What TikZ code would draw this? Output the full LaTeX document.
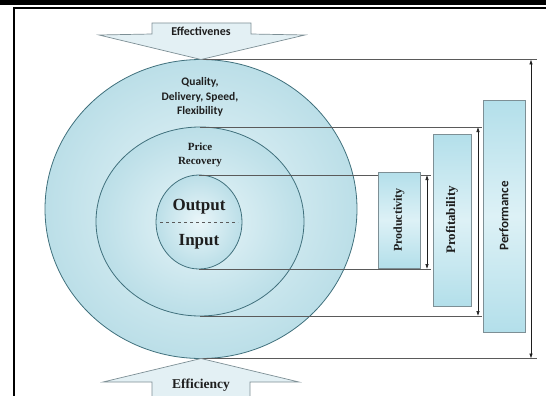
\documentclass[tikz,border=0pt]{standalone}
\usepackage{fontspec}
\setmainfont{Liberation Serif}
\newfontfamily\calfont{Carlito}
\usetikzlibrary{shapes.geometric,arrows.meta}
\definecolor{ink}{HTML}{1E1E1E}
\definecolor{rim}{HTML}{40707C}
\definecolor{wire}{HTML}{5A5A5A}
\definecolor{ringOut}{HTML}{8EC8D7}
\definecolor{ringIn}{HTML}{EAF6F9}
\definecolor{boxBlue}{HTML}{B3DFEA}
\definecolor{boxPale}{HTML}{DDF1F6}
\definecolor{arrowFill}{HTML}{E3F0F4}
\definecolor{arrowRim}{HTML}{7D8F95}
\pgfdeclareradialshading{ringShade}{\pgfpointorigin}{color(0bp)=(ringIn); color(22bp)=(ringIn!55!ringOut); color(50bp)=(ringOut); color(72bp)=(ringOut)}
\tikzset{
  ringCircle/.style={ellipse, draw=rim, line width=0.8pt, inner sep=0pt, outer sep=0pt, shading=ringShade},
  tangentLine/.style={draw=wire, line width=0.7pt},
  bracketArrow/.style={draw=ink, line width=0.6pt, {Latex[length=5pt,width=3.5pt]}-{Latex[length=5pt,width=3.5pt]}},
  metricBox/.style={draw=arrowRim, line width=0.7pt, top color=boxBlue, bottom color=boxBlue, middle color=boxPale, inner sep=0pt, outer sep=0pt, rotate=90, text=ink},
  flowArrow/.style={draw=arrowRim, line width=0.7pt, fill=arrowFill},
  ringText/.style={text=ink, align=center},
  ioText/.style={text=ink, font=\bfseries\fontsize{17}{19}\selectfont}
}

\begin{document}
\begin{tikzpicture}[x=1pt,y=-1pt]
  \useasboundingbox (0,0) rectangle (546,396);

  % frame
  \fill[black] (0,0) rectangle (546,5);
  \draw[black, line width=1.2pt] (13,8) -- (546,8);
  \draw[black, line width=1.6pt] (14,8) -- (14,396);

  % rings
  \node[ringCircle, minimum width=312pt, minimum height=299pt] (outer) at (201,209) {};
  \node[ringCircle, minimum width=208pt, minimum height=189pt] (middle) at (200,221.5) {};
  \node[ringCircle, minimum width=86pt, minimum height=94pt] (inner) at (199,222) {};

  \coordinate (prodX) at (427,0);
  \coordinate (prodEnd) at (431,0);
  \coordinate (profX) at (478,0);
  \coordinate (profEnd) at (482,0);
  \coordinate (perfX) at (531,0);
  \coordinate (perfEnd) at (537,0);

  \draw[tangentLine] (inner.north) -- (inner.north -| prodEnd);
  \draw[tangentLine] (inner.south) -- (inner.south -| prodEnd);
  \draw[tangentLine] (middle.north) -- (middle.north -| profEnd);
  \draw[tangentLine] (middle.south) -- (middle.south -| profEnd);
  \draw[tangentLine] (outer.north) -- (outer.north -| perfEnd);
  \draw[tangentLine] (outer.south) -- (outer.south -| perfEnd);

  \draw[wire, dashed, line width=0.5pt, shorten <=4pt, shorten >=4pt] (inner.west) -- (inner.east);

  \draw[bracketArrow] (inner.north -| prodX) -- (inner.south -| prodX);
  \draw[bracketArrow] (middle.north -| profX) -- (middle.south -| profX);
  \draw[bracketArrow] (outer.north -| perfX) -- (outer.south -| perfX);

  % boxes
  \node[metricBox, minimum width=96pt, minimum height=42pt, font=\bfseries\fontsize{12}{13}\selectfont] (productivity) at (399,220) {Productivity};
  \node[metricBox, minimum width=172pt, minimum height=38pt, font=\bfseries\fontsize{13}{14}\selectfont] (profitability) at (452,220) {Profitability};
  \node[metricBox, minimum width=232pt, minimum height=42pt, font=\calfont\bfseries\fontsize{13}{14}\selectfont] (performance) at (504,216) {Performance};

  % arrows
  \draw[flowArrow] (152,23) -- (251,23) -- (251,34) -- (305,35) -- (outer.north) -- (99,35) -- (152,34) -- cycle;
  \draw[flowArrow] (outer.south) -- (299,382) -- (250,382) -- (250,400) -- (152,400) -- (152,382) -- (103,382) -- cycle;

  % labels
  \node[ringText, font=\calfont\bfseries\fontsize{12}{13}\selectfont] (effLabel) at (201,31) {Effectivenes};
  \node[ringText, font=\bfseries\fontsize{13.5}{15}\selectfont] (efcLabel) at (201,385) {Efficiency};
  \node[ringText, font=\calfont\bfseries\fontsize{11.5}{14.5}\selectfont] (qualityLabel) at (200,97) {Quality,\\Delivery, Speed,\\Flexibility};
  \node[ringText, font=\bfseries\fontsize{11}{14}\selectfont] (priceLabel) at (200,155) {Price\\Recovery};
  \node[ioText] (outLabel) at (199,207) {Output};
  \node[ioText] (inLabel) at (199,242) {Input};
\end{tikzpicture}
\end{document}
